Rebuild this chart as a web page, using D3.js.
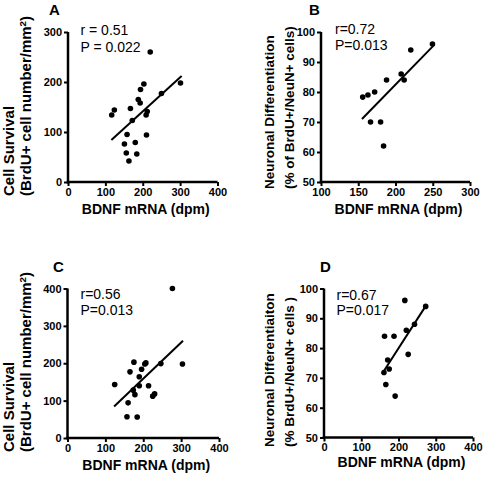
<!DOCTYPE html>
<html><head><meta charset="utf-8">
<script src="https://cdn.jsdelivr.net/npm/d3@7"></script>
<style>
body{margin:0;background:#fff;}
svg{display:block;font-family:"Liberation Sans",Arial,sans-serif;}
</style></head>
<body>
<svg id="c" width="484" height="478"></svg>
<script>
// ---- Data ----
const aX = [117,124,167,172,158,151,156,163,180,184,188,193,194,203,209,212,210,250,301,220];
const aY = [134,144,147,123,95,76,58,42,79,56,165,158,185,196,134,141,94,177,198,260];
const aFit = [[116,84],[304,212]];

const bX = [156,163,172,166.5,180,184,188,207.6,211.6,220.5,249.6];
const bY = [78.3,79,80,70,70,62,84,86,84,94,96];
const bFit = [[155,71],[252,95.7]];

const cX = [124.6,160,157,184,165,175.4,189.5,195.6,204,207,173.7,178,189.5,214,225,230,246.5,303.5,277];
const cY = [143,94,57,56,177,203,164,184,198,201,128,116,140,140,112,118,199,198,400];
const cFit = [[123,84.5],[305,260]];

const dX = [162.5,188,217,221,243,273,171,175,161,166,191,226];
const dY = [84,84,96,86,88,94,76,73,71.8,67.8,63.9,77.9];
const dFit = [[156,71.4],[275,94.5]];

const xTicksA = [0,100,200,300,400];
const yTicksA = [0,100,200,300];
const xTicksB = [100,150,200,250,300];
const yTicksB = [50,60,70,80,90,100];
const xTicksC = [0,100,200,300,400];
const yTicksC = [0,100,200,300,400];
const xTicksD = [0,100,200,300,400];
const yTicksD = [50,60,70,80,90,100];

const labels = ["A","B","C","D"];
const stats = [["r = 0.51","P = 0.022"],["r=0.72","P=0.013"],["r=0.56","P=0.013"],["r=0.67","P=0.017"]];
const yTitles = [["Cell Survival","(BrdU+ cell number/mm","2",")"],
                 ["Neuronal Differentiation","(% of BrdU+/NeuN+ cells)"],
                 ["Cell Survival","(BrdU+ cell number/mm","2",")"],
                 ["Neuronal Differentiaiton","(% BrdU+/NeuN+ cells )"]];
const xTitle = "BDNF mRNA (dpm)";

// ---- Layout ----
const panels = [
  {xs:aX, ys:aY, fit:aFit, xd:[0,400], yd:[0,300], xr:[68,217.5], yr:[182,32], xt:xTicksA, yt:yTicksA,
   lab:[49,15], st:[80.5,35,52], yt1:14, yt2:31, ytBottom:196, ytSize:15, xtY:214},
  {xs:bX, ys:bY, fit:bFit, xd:[100,300], yd:[50,100], xr:[321,470], yr:[182,32], xt:xTicksB, yt:yTicksB,
   lab:[309,15], st:[335,34,50], yt1:274, yt2:294, ytBottom:189, ytSize:13.5, xtY:214},
  {xs:cX, ys:cY, fit:cFit, xd:[0,400], yd:[0,400], xr:[67.5,219], yr:[438,288.5], xt:xTicksC, yt:yTicksC,
   lab:[53,272], st:[80.5,299,315], yt1:14, yt2:31, ytBottom:452, ytSize:15, xtY:470},
  {xs:dX, ys:dY, fit:dFit, xd:[0,400], yd:[50,100], xr:[324,473], yr:[437.5,288.5], xt:xTicksD, yt:yTicksD,
   lab:[320,272], st:[336.5,300,315], yt1:274, yt2:294, ytBottom:447, ytSize:13.5, xtY:467}
];

const svg = d3.select("#c");

panels.forEach((p,i)=>{
  const x = d3.scaleLinear().domain(p.xd).range(p.xr);
  const y = d3.scaleLinear().domain(p.yd).range(p.yr);
  const g = svg.append("g");

  const xAxis = g.append("g").attr("transform",`translate(0,${p.yr[0]})`)
    .call(d3.axisBottom(x).tickValues(p.xt).tickSize(4).tickSizeOuter(0).tickPadding(2));
  const yAxis = g.append("g").attr("transform",`translate(${p.xr[0]},0)`)
    .call(d3.axisLeft(y).tickValues(p.yt).tickSize(4).tickSizeOuter(0).tickPadding(2));
  [xAxis,yAxis].forEach(a=>{
    a.select(".domain").attr("stroke","#000").attr("stroke-width",2.5);
    a.selectAll(".tick line").attr("stroke","#000").attr("stroke-width",2);
    a.selectAll(".tick text").attr("fill","#000").attr("font-size",11).attr("font-weight","bold")
      .attr("font-family",'"Liberation Sans",Arial,sans-serif');
  });
  xAxis.select(".domain").attr("d",`M${p.xr[0]-1.25},0H${p.xr[1]}`);
  yAxis.select(".domain").attr("d",`M0,${p.yr[0]+1.25}V${p.yr[1]}`);

  g.append("line")
    .attr("x1",x(p.fit[0][0])).attr("y1",y(p.fit[0][1]))
    .attr("x2",x(p.fit[1][0])).attr("y2",y(p.fit[1][1]))
    .attr("stroke","#000").attr("stroke-width",2);

  g.selectAll("circle.pt").data(d3.zip(p.xs,p.ys)).join("circle")
    .attr("class","pt").attr("cx",d=>x(d[0])).attr("cy",d=>y(d[1])).attr("r",2.8).attr("fill","#000");

  g.append("text").attr("x",p.st[0]).attr("y",p.st[1]).attr("font-size",14).text(stats[i][0]);
  g.append("text").attr("x",p.st[0]).attr("y",p.st[2]).attr("font-size",14).text(stats[i][1]);

  g.append("text").attr("x",p.lab[0]).attr("y",p.lab[1]).attr("font-size",15).attr("font-weight","bold").text(labels[i]);

  g.append("text").attr("x",(p.xr[0]+p.xr[1])/2+3).attr("y",p.xtY).attr("text-anchor","middle")
    .attr("font-size",14).attr("font-weight","bold").text(xTitle);

  const t = yTitles[i];
  g.append("text").attr("transform",`translate(${p.yt1},${p.ytBottom}) rotate(-90)`)
    .attr("font-size",p.ytSize).attr("font-weight","bold").text(t[0]);
  const t2 = g.append("text").attr("transform",`translate(${p.yt2},${p.ytBottom}) rotate(-90)`)
    .attr("font-size",p.ytSize).attr("font-weight","bold");
  t2.append("tspan").text(t[1]);
  if(t.length>2){
    t2.append("tspan").attr("font-size",p.ytSize*0.65).attr("dy",-5).text(t[2]);
    t2.append("tspan").attr("dy",5).text(t[3]);
  }
});
</script>
</body></html>
